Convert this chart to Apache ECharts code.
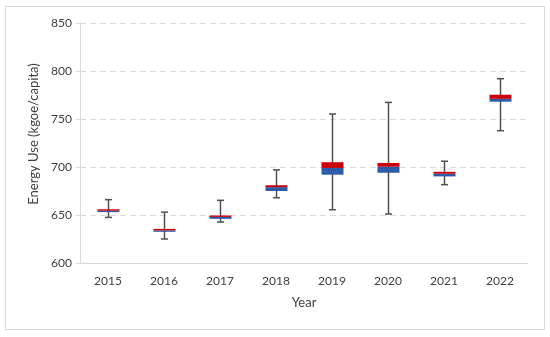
<!DOCTYPE html>
<html>
<head>
<meta charset="utf-8">
<script src="https://cdn.jsdelivr.net/npm/echarts@6/dist/echarts.min.js"></script>
<style>html,body{margin:0;padding:0;background:#fff}#c{width:550px;height:337px}</style>
</head>
<body>
<div id="c"></div>
<script>
var years = ['2015','2016','2017','2018','2019','2020','2021','2022'];
var whiskerMin = [647.5, 625, 642.7, 668, 655.5, 651, 681.6, 737.8];
var q1 = [653, 632.5, 646, 675, 692, 694, 690.2, 768];
var median = [654.5, 634, 648, 679, 699, 700.3, 693, 771];
var q3 = [656, 635.5, 649.5, 681, 705, 704.2, 695, 775.3];
var whiskerMax = [666, 653, 665.3, 697, 755.2, 767.3, 706, 792];
var yTicks = [600, 650, 700, 750, 800, 850];

var data = years.map(function (y, i) {
  return [i, whiskerMin[i], q1[i], median[i], q3[i], whiskerMax[i]];
});

var chart = echarts.init(document.getElementById('c'));
var font = 'Lato';
chart.setOption({
  animation: false,
  backgroundColor: '#fff',
  graphic: [{
    type: 'rect', shape: {x: 5.5, y: 6.5, width: 539, height: 323},
    style: {fill: 'none', stroke: '#D9D9D9', lineWidth: 1}, z: -10
  }],
  grid: {left: 80, right: 22, top: 23, bottom: 74},
  xAxis: {
    type: 'category', data: years,
    name: 'Year', nameLocation: 'middle', nameGap: 33,
    nameTextStyle: {fontFamily: font, fontSize: 13, color: '#404040'},
    axisLine: {lineStyle: {color: '#D9D9D9', width: 1}},
    axisTick: {show: false},
    axisLabel: {fontFamily: font, fontSize: 12, color: '#404040', margin: 12}
  },
  yAxis: {
    type: 'value', min: yTicks[0], max: yTicks[yTicks.length - 1], interval: 50,
    name: 'Energy Use (kgoe/capita)', nameLocation: 'middle', nameGap: 36,
    nameTextStyle: {fontFamily: font, fontSize: 13, color: '#404040', padding: [0, 0, 0, 18]},
    axisLine: {show: true, lineStyle: {color: '#D9D9D9', width: 1}},
    axisTick: {show: true, length: 4, lineStyle: {color: '#D9D9D9'}},
    axisLabel: {fontFamily: font, fontSize: 12, color: '#404040', margin: 8},
    splitLine: {lineStyle: {color: '#D9D9D9', type: [6, 4], width: 1}}
  },
  series: [{
    type: 'custom',
    data: data,
    encode: {x: 0, y: [1, 2, 3, 4, 5]},
    renderItem: function (params, api) {
      var x = api.value(0);
      var pMin = api.coord([x, api.value(1)]);
      var pQ1 = api.coord([x, api.value(2)]);
      var pMed = api.coord([x, api.value(3)]);
      var pQ3 = api.coord([x, api.value(4)]);
      var pMax = api.coord([x, api.value(5)]);
      var cx = Math.round(pMin[0]) + 0.5;
      var bw = 22, cw = 7;
      var ls = {stroke: '#505050', lineWidth: 1.5};
      return {
        type: 'group',
        children: [
          {type: 'line', shape: {x1: cx, y1: pMin[1], x2: cx, y2: pMax[1]}, style: ls},
          {type: 'line', shape: {x1: cx - cw / 2, y1: pMin[1], x2: cx + cw / 2, y2: pMin[1]}, style: ls},
          {type: 'line', shape: {x1: cx - cw / 2, y1: pMax[1], x2: cx + cw / 2, y2: pMax[1]}, style: ls},
          {type: 'rect', shape: {x: cx - bw / 2, y: pMed[1], width: bw, height: pQ1[1] - pMed[1]},
            style: {fill: '#2F5AA6'}},
          {type: 'rect', shape: {x: cx - bw / 2, y: pQ3[1], width: bw, height: pMed[1] - pQ3[1]},
            style: {fill: '#C8000E'}}
        ]
      };
    }
  }]
});
</script>
</body>
</html>
